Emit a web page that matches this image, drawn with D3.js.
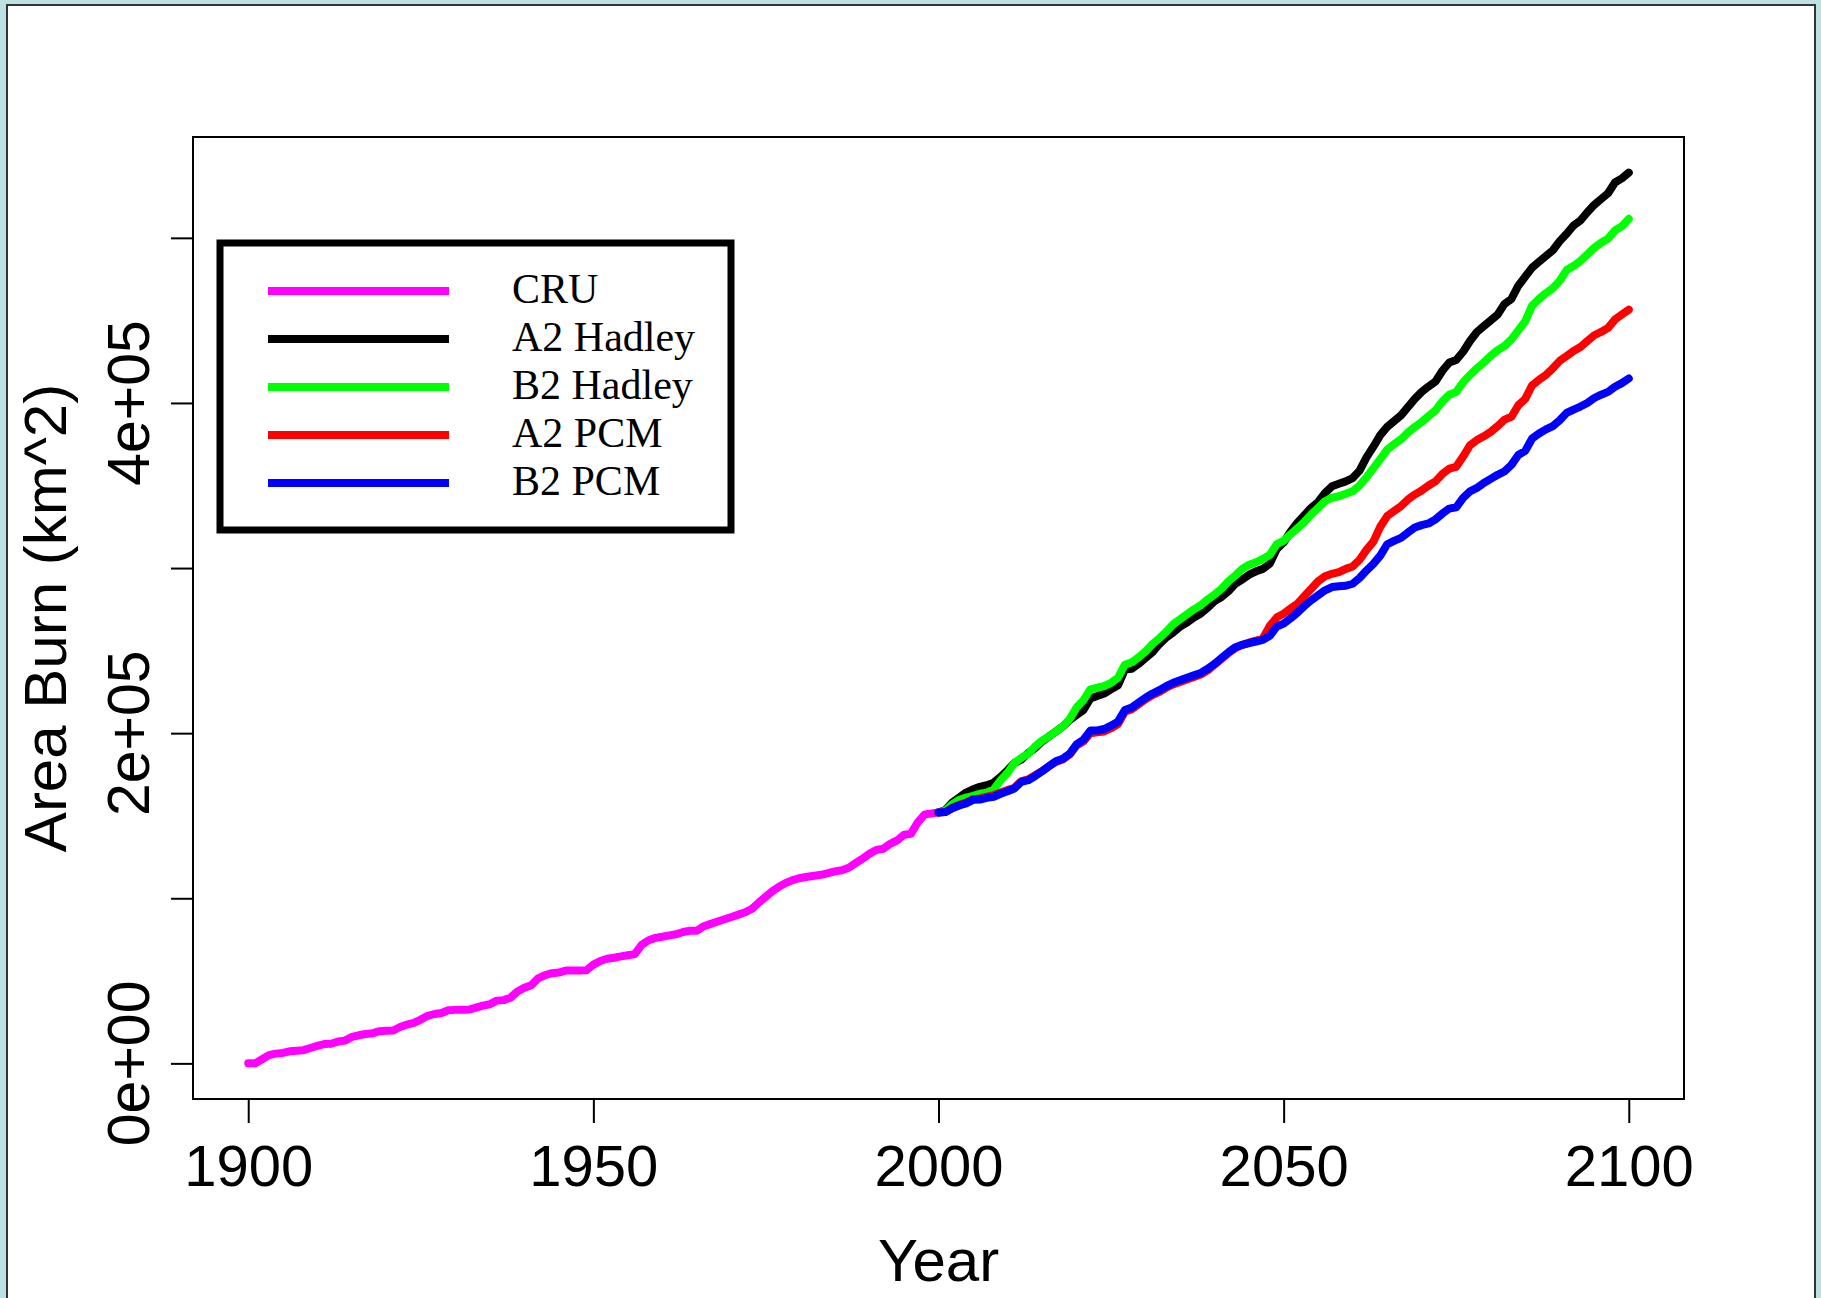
<!DOCTYPE html>
<html>
<head>
<meta charset="utf-8">
<script src="https://cdn.jsdelivr.net/npm/d3@7"></script>
<style>
  html, body { margin: 0; padding: 0; background: #bde0e3; }
  svg { display: block; }
</style>
</head>
<body>
<svg id="chart" width="1821" height="1298"></svg>
<script>
// observed CRU record, 1900-2000
const cruYears = d3.range(1900, 2001);
const cru = [
  0, 0, 2500, 5000, 5900, 6300, 7300, 7700, 8000, 9300,
  10600, 11700, 11900, 13200, 13800, 16000, 17000, 17800, 18200, 19500,
  19800, 19900, 22000, 23500, 24500, 26500, 28800, 29900, 30500, 32200,
  32400, 32500, 32600, 33800, 35000, 35800, 38000, 38300, 39800, 43500,
  45800, 47300, 51500, 53500, 54600, 55000, 56200, 56300, 56300, 56400,
  59800, 62000, 63400, 64000, 64800, 65500, 66200, 71800, 74600, 76000,
  76700, 77500, 78200, 79600, 80300, 80300, 83100, 84500, 85900, 87300,
  88700, 90100, 91500, 93700, 97500, 101000, 104500, 107300, 109500, 111200,
  112300, 113000, 113600, 114200, 115200, 116300, 117000, 118500, 121300, 124000,
  127000, 129300, 130000, 133000, 135000, 138500, 139000, 146000, 150800, 151300,
  152000
];

// scenario runs, 2000-2100
const scenYears = d3.range(2000, 2101);
const a2Hadley = [
  152000, 153500, 158000, 161000, 164000, 166000, 167500, 168500, 170000, 173500,
  177500, 182000, 184000, 188000, 191000, 195000, 198000, 201000, 204000, 208000,
  211000, 214000, 221000, 222500, 224000, 226500, 229000, 238500, 239000, 242000,
  245500, 249000, 254000, 258000, 261000, 264500, 267000, 270000, 272500, 276000,
  280000, 282500, 286000, 290500, 293000, 296000, 298000, 299500, 302700, 311500,
  315500, 322000, 327500, 332000, 336500, 340000, 345500, 349500, 351000, 352500,
  354500, 359000, 367000, 373500, 380500, 385500, 389000, 392500, 397500, 402500,
  406700, 410000, 413000, 419500, 424500, 426000, 431000, 437500, 443000, 446500,
  450000, 453500, 460000, 463000, 471000, 476500, 482000, 485500, 489000, 492500,
  498000, 502500, 507500, 510500, 515500, 520000, 523500, 527000, 533500, 536000,
  539500
];
const b2Hadley = [
  152000, 153000, 157000, 159500, 161000, 162000, 163300, 164000, 166000, 171500,
  176000, 182000, 185000, 187500, 192000, 195500, 198000, 201000, 204000, 208500,
  215500, 220000, 226500, 227500, 228500, 230500, 233500, 241500, 243000, 246000,
  249500, 254000, 257500, 261500, 266000, 269000, 272000, 275000, 277500, 281000,
  284000, 287500, 292000, 295500, 299500, 302000, 303500, 305500, 308000, 314500,
  316500, 320500, 324000, 328000, 332500, 336500, 340500, 342700, 343500, 345000,
  346500, 350000, 355000, 360500, 366000, 371700, 375000, 378000, 382000, 385500,
  388500, 392000, 395500, 401000, 405000, 406700, 412500, 417000, 421000, 424500,
  428500, 432000, 434500, 438500, 444000, 449500, 459000, 463000, 466500, 469500,
  474000, 480500, 483000, 486000, 490000, 494000, 497000, 499500, 504500, 507000,
  511500
];
const a2Pcm = [
  152000, 152200, 154800, 156600, 158000, 160000, 160500, 161500, 162500, 164000,
  165500, 167000, 171000, 172000, 174500, 177000, 180000, 182500, 184000, 187000,
  192500, 195000, 200000, 200500, 201000, 203000, 205500, 213000, 214500, 217500,
  220500, 223000, 225000, 227500, 229500, 231000, 232500, 234000, 235500, 238000,
  241500, 245000, 248500, 251500, 253500, 254800, 256000, 257500, 265000, 270000,
  272400, 275500, 278400, 283000, 287500, 292000, 295000, 296500, 297500, 299500,
  301000, 305000, 311000, 316000, 325000, 331500, 334500, 337500, 341500, 344500,
  347000, 350000, 352500, 357000, 360200, 361300, 367500, 374400, 377500, 379800,
  382500, 386000, 389900, 391600, 398600, 402500, 410700, 414000, 417000, 421000,
  425500, 428500, 431500, 433900, 437500, 441000, 443000, 445500, 450500, 453500,
  456500
];
const b2Pcm = [
  152000, 152200, 154500, 156200, 157500, 159600, 159800, 160800, 161500, 163300,
  164800, 166500, 170500, 171500, 174000, 177000, 180000, 183000, 184500, 187500,
  193200, 196000, 201600, 201600, 202500, 204500, 207000, 214000, 215500, 218500,
  221500, 224000, 226000, 228500, 230500, 232000, 233500, 235000, 236500, 239000,
  242000, 245500, 249000, 252000, 253500, 254600, 255500, 256500, 259000, 264500,
  266300, 269500, 273000, 277000, 280500, 283500, 286500, 288500, 289000, 289300,
  290500, 294000, 298500, 302500, 307500, 314400, 316500, 318300, 321500, 324500,
  326000, 327000, 329500, 333000, 336000, 336800, 342500, 346500, 348500, 351500,
  354000, 356500, 358500, 362500, 368500, 371000, 378500, 381500, 384000, 386000,
  389500, 394000, 396000, 397800, 400000, 403000, 405000, 406700, 409800, 412000,
  414800
];

const seriesNames = ["CRU", "A2 Hadley", "B2 Hadley", "A2 PCM", "B2 PCM"];
const seriesColors = ["#ff00ff", "#000000", "#00ff00", "#ff0000", "#0000ff"];
const xTicks = [1900, 1950, 2000, 2050, 2100];
const yTicks = [0, 100000, 200000, 300000, 400000, 500000];
const yLabelled = [0, 200000, 400000];

const series = [
  { name: seriesNames[0], color: seriesColors[0], years: cruYears, values: cru },
  { name: seriesNames[1], color: seriesColors[1], years: scenYears, values: a2Hadley },
  { name: seriesNames[2], color: seriesColors[2], years: scenYears, values: b2Hadley },
  { name: seriesNames[3], color: seriesColors[3], years: scenYears, values: a2Pcm },
  { name: seriesNames[4], color: seriesColors[4], years: scenYears, values: b2Pcm }
];

const svg = d3.select("#chart");
const plotL = 193, plotR = 1684, plotT = 137, plotB = 1099;
const fontSans = "'Liberation Sans', Arial, sans-serif";
const fontSerif = "'Liberation Serif', 'Times New Roman', serif";

// white panel with thin border
svg.append("rect")
    .attr("x", 7).attr("y", 5)
    .attr("width", 1808).attr("height", 1310)
    .attr("fill", "#fff")
    .attr("stroke", "#333")
    .attr("stroke-width", 2);

// R style 4% padding on both axes
const xMin = 1900, xMax = 2100;
const yMax = d3.max(series, s => d3.max(s.values));
const x = d3.scaleLinear()
    .domain([xMin - 0.04 * (xMax - xMin), xMax + 0.04 * (xMax - xMin)])
    .range([plotL, plotR]);
const y = d3.scaleLinear()
    .domain([-0.04 * yMax, 1.04 * yMax])
    .range([plotB, plotT]);

// x axis
const xAxis = svg.append("g")
    .attr("transform", `translate(0,${plotB})`)
    .call(d3.axisBottom(x).tickValues(xTicks).tickSize(24).tickPadding(22).tickFormat(d3.format("d")));
xAxis.select(".domain").remove();
xAxis.selectAll("line").attr("stroke", "#000").attr("stroke-width", 2);
xAxis.selectAll("text")
    .attr("font-family", fontSans)
    .attr("font-size", 58)
    .attr("fill", "#000");

// y axis
const yAxis = svg.append("g")
    .attr("transform", `translate(${plotL},0)`)
    .call(d3.axisLeft(y).tickValues(yTicks).tickSize(22).tickFormat(""));
yAxis.select(".domain").remove();
yAxis.selectAll("line").attr("stroke", "#000").attr("stroke-width", 2);

const expFmt = v => {
  const s = v.toExponential(0);           // e.g. "2e+5"
  const [m, e] = s.split("e");
  const sign = e[0];
  const digits = e.slice(1).padStart(2, "0");
  return m + "e" + sign + digits;
};
svg.append("g").selectAll("text")
    .data(yLabelled)
    .join("text")
    .attr("transform", d => `translate(149,${y(d)}) rotate(-90)`)
    .attr("text-anchor", "middle")
    .attr("font-family", fontSans)
    .attr("font-size", 59)
    .text(expFmt);

// plot frame
svg.append("rect")
    .attr("x", plotL).attr("y", plotT)
    .attr("width", plotR - plotL).attr("height", plotB - plotT)
    .attr("fill", "none")
    .attr("stroke", "#000")
    .attr("stroke-width", 2);

// axis titles
svg.append("text")
    .attr("x", (plotL + plotR) / 2).attr("y", 1281)
    .attr("text-anchor", "middle")
    .attr("font-family", fontSans)
    .attr("font-size", 60)
    .text("Year");
svg.append("text")
    .attr("transform", `translate(66,${(plotT + plotB) / 2}) rotate(-90)`)
    .attr("text-anchor", "middle")
    .attr("font-family", fontSans)
    .attr("font-size", 60)
    .text("Area Burn (km^2)");

// lines
const line = d3.line()
    .x(d => x(d[0]))
    .y(d => y(d[1]));

svg.append("g").selectAll("path")
    .data(series)
    .join("path")
    .attr("d", s => line(d3.zip(s.years, s.values)))
    .attr("fill", "none")
    .attr("stroke", s => s.color)
    .attr("stroke-width", 8)
    .attr("stroke-linejoin", "round")
    .attr("stroke-linecap", "round");

// legend
const legend = svg.append("g");
legend.append("rect")
    .attr("x", 220).attr("y", 243)
    .attr("width", 511).attr("height", 287)
    .attr("fill", "#fff")
    .attr("stroke", "#000")
    .attr("stroke-width", 7);

const rows = legend.selectAll("g.row")
    .data(series)
    .join("g")
    .attr("class", "row")
    .attr("transform", (d, i) => `translate(0,${291 + i * 48})`);
rows.append("line")
    .attr("x1", 268).attr("x2", 449)
    .attr("y1", 0).attr("y2", 0)
    .attr("stroke", d => d.color)
    .attr("stroke-width", 8);
rows.append("text")
    .attr("x", 512).attr("y", 12)
    .attr("font-family", fontSerif)
    .attr("font-size", 42)
    .text(d => d.name);
</script>
</body>
</html>
